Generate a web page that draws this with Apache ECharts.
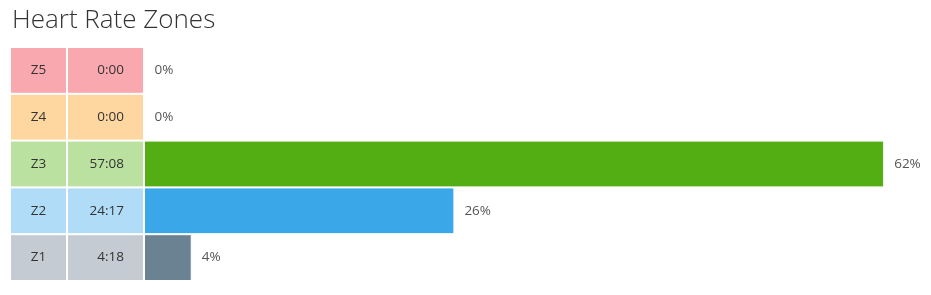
<!DOCTYPE html>
<html>
<head>
<meta charset="utf-8">
<script src="https://cdn.jsdelivr.net/npm/echarts@6/dist/echarts.min.js"></script>
<style>
html,body{margin:0;padding:0;background:#fff;}
#chart{width:931px;height:295px;}
</style>
</head>
<body>
<div id="chart"></div>
<script>
// ---- data ----
var zones = ['Z5', 'Z4', 'Z3', 'Z2', 'Z1'];
var times = ['0:00', '0:00', '57:08', '24:17', '4:18'];
var percents = [0, 0, 62, 26, 4];

// ---- styles ----
var cellColors = ['#f9a8b0', '#fed6a0', '#bbe1a1', '#b0dcf7', '#c4cbd2'];
var barColors = ['#e8505b', '#f5a623', '#52ae12', '#3aa8e8', '#6b8292'];

var FONT = '"Open Sans", "Noto Sans", sans-serif';

function yAx(gi) {
  return {
    type: 'category', gridIndex: gi, data: zones, inverse: true,
    axisLine: {show: false}, axisTick: {show: false}, axisLabel: {show: false}, splitLine: {show: false}
  };
}
function xAx(gi, max) {
  return {
    type: 'value', gridIndex: gi, min: 0, max: max,
    axisLine: {show: false}, axisTick: {show: false}, axisLabel: {show: false}, splitLine: {show: false}
  };
}
var fillers = zones.map(function () { return 1; });

var chart = echarts.init(document.getElementById('chart'), null, {renderer: 'canvas'});
chart.setOption({
  animation: false,
  backgroundColor: '#fff',
  title: {
    text: 'Heart Rate Zones', left: 7, top: 3,
    textStyle: {fontFamily: FONT, fontWeight: 300, fontSize: 26, color: '#333'}
  },
  grid: [
    {left: 10, width: 57, top: 47, bottom: 14},
    {left: 67, width: 77, top: 47, bottom: 14},
    {left: 144, right: 11, top: 47, bottom: 14}
  ],
  xAxis: [xAx(0, 1), xAx(1, 1), xAx(2, 65)],
  yAxis: [yAx(0), yAx(1), yAx(2)],
  series: [
    {
      type: 'bar', xAxisIndex: 0, yAxisIndex: 0, data: fillers, barWidth: '100%',
      itemStyle: {color: function (p) { return cellColors[p.dataIndex]; }, borderColor: '#fff', borderWidth: 1},
      label: {show: true, position: 'inside', formatter: function (p) { return zones[p.dataIndex]; },
        fontFamily: FONT, fontSize: 13.5, color: '#333'},
      silent: true
    },
    {
      type: 'bar', xAxisIndex: 1, yAxisIndex: 1, data: fillers, barWidth: '100%',
      itemStyle: {color: function (p) { return cellColors[p.dataIndex]; }, borderColor: '#fff', borderWidth: 1},
      label: {show: true, position: 'insideRight', distance: 20, formatter: function (p) { return times[p.dataIndex]; },
        fontFamily: FONT, fontSize: 13.5, color: '#333'},
      silent: true
    },
    {
      type: 'bar', xAxisIndex: 2, yAxisIndex: 2, data: percents, barWidth: '100%',
      itemStyle: {color: function (p) { return barColors[p.dataIndex]; }, borderColor: '#fff', borderWidth: 1},
      label: {show: true, position: 'right', distance: 10, formatter: function (p) { return p.value + '%'; },
        fontFamily: FONT, fontSize: 13.5, color: '#555'},
      silent: true
    }
  ]
});
</script>
</body>
</html>
